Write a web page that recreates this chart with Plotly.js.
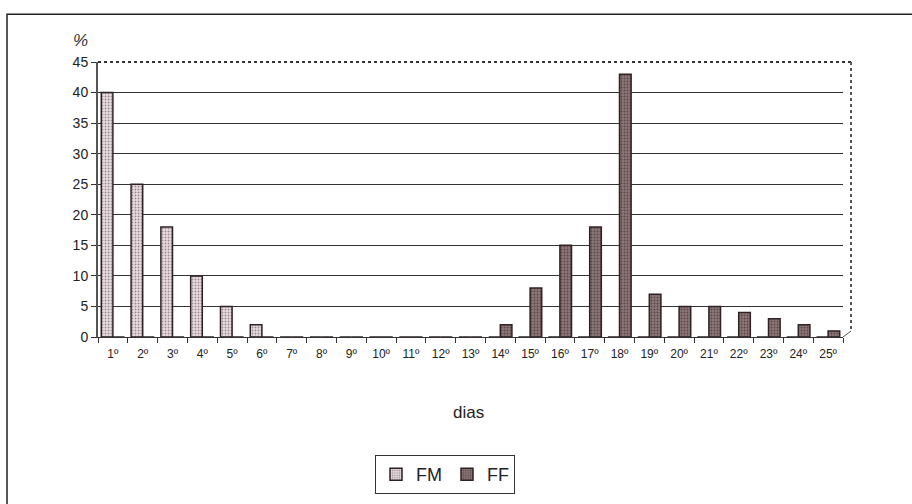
<!DOCTYPE html>
<html><head><meta charset="utf-8">
<script src="https://cdn.plot.ly/plotly-3.0.1.min.js"></script>
<style>html,body{margin:0;padding:0;background:#fff}#c{width:912px;height:504px}</style>
</head><body><div id="c"></div>
<script>
const categories = ["1º","2º","3º","4º","5º","6º","7º","8º","9º","10º","11º","12º","13º","14º","15º","16º","17º","18º","19º","20º","21º","22º","23º","24º","25º"];
const fmValues = [40,25,18,10,5,2,0,0,0,0,0,0,0,0,0,0,0,0,0,0,0,0,0,0,0];
const ffValues = [0,0,0,0,0,0,0,0,0,0,0,0,0,2,8,15,18,43,7,5,5,4,3,2,1];
const yTicks = [0,5,10,15,20,25,30,35,40,45];
const seriesNames = ["FM","FF"];
const xTitle = "dias";
const yUnit = "%";

const traces = [
  {type:'bar', name:seriesNames[0], x:categories, y:fmValues,
   marker:{color:'#e4d8dc', line:{color:'#2e2224', width:1.5},
     pattern:{shape:'.', fgcolor:'#9c8a90', bgcolor:'#e8dde0', size:3, solidity:0.3}}},
  {type:'bar', name:seriesNames[1], x:categories, y:ffValues,
   marker:{color:'#86706f', line:{color:'#2e2224', width:1.5},
     pattern:{shape:'.', fgcolor:'#5a4648', bgcolor:'#8c7678', size:3, solidity:0.3}}}
];

const L=98, R=843, T=62, B=338;
const W=R-L, H=B-T;
const layout = {
  width:912, height:504,
  margin:{l:L, r:912-R, t:T, b:504-B, pad:0},
  paper_bgcolor:'#fff', plot_bgcolor:'#fff',
  font:{family:'Liberation Sans, Arial, sans-serif', color:'#222'},
  barmode:'group', bargap:0.22, bargroupgap:0,
  showlegend:true,
  legend:{orientation:'h', x:(445-L)/W, xanchor:'center', y:(B-455)/H, yanchor:'top',
    bordercolor:'#333', borderwidth:1, font:{size:18, color:'#222'}, traceorder:'normal',
    itemwidth:30},
  xaxis:{type:'category', tickfont:{size:12}, ticks:'outside', ticklen:5, tickcolor:'#333',
    tickson:'boundaries', showline:true, linecolor:'#333', linewidth:1, showgrid:false,
    ticklabelstandoff:6},
  yaxis:{range:[0,45], tickvals:yTicks, ticktext:yTicks.map(String), tickfont:{size:14},
    ticks:'outside', ticklen:5, tickcolor:'#333', showline:true, linecolor:'#555', linewidth:2,
    gridcolor:'#333', gridwidth:1, zeroline:false},
  annotations:[
    {text:'<i>'+yUnit+'</i>', xref:'paper', yref:'paper', x:(80-L)/W, y:(B-40)/H, xanchor:'center', yanchor:'middle',
     showarrow:false, font:{size:17, color:'#333'}},
    {text:xTitle, xref:'paper', yref:'paper', x:(468-L)/W, y:(B-414)/H, xanchor:'center', yanchor:'middle',
     showarrow:false, font:{size:17, color:'#222'}}
  ],
  shapes:[
    {type:'line', xref:'paper', yref:'paper', x0:0, x1:(851-L)/W, y0:1, y1:1, line:{color:'#333', width:2, dash:'dot'}},
    {type:'line', xref:'paper', yref:'paper', x0:(851-L)/W, x1:(851-L)/W, y0:1, y1:(B-332)/H, line:{color:'#555', width:2, dash:'dot'}},
    {type:'line', xref:'paper', yref:'paper', x0:1, x1:(851-L)/W, y0:0, y1:(B-332)/H, line:{color:'#555', width:1}},
    {type:'rect', xref:'paper', yref:'paper', x0:(7-L)/W, x1:(920-L)/W, y0:(B-14)/H, y1:(B-520)/H, line:{color:'#222', width:1.5}}
  ]
};
Plotly.newPlot('c', traces, layout, {displayModeBar:false, staticPlot:true});
</script></body></html>
